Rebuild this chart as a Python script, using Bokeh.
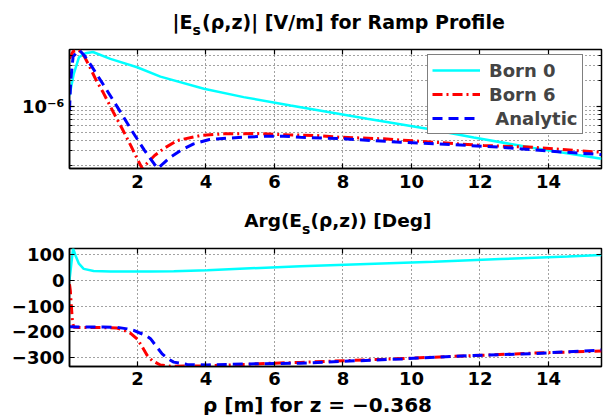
from bokeh.plotting import figure
from bokeh.models import (FixedTicker, CustomJSTickFormatter, Legend, LegendItem,
                          LinearAxis, LogAxis, Range1d)
from bokeh.layouts import column
from bokeh.embed import file_html
from bokeh.resources import INLINE
from bokeh.core.properties import value

FONT = "DejaVu Sans"

# ---------------- data ----------------
x_ticks = [2, 4, 6, 8, 10, 12, 14]
mag_major_ticks = [1e-6]
mag_minor_ticks = [2e-7, 3e-7, 4e-7, 5e-7, 6e-7, 7e-7, 8e-7, 9e-7, 2e-6, 3e-6, 4e-6]
phase_ticks = [-300, -200, -100, 0, 100]

# |Es| Born 0
rho_b0_mag = [0.015, 0.14, 0.29, 0.48, 0.7, 1.21, 1.99, 2.67, 3.94, 5.1, 6.47, 8.71, 10.46, 11.82, 13.57, 15.55]
mag_b0 = [1.35e-6, 2.43e-6, 3.80e-6, 4.24e-6, 4.38e-6, 3.64e-6, 2.90e-6, 2.25e-6, 1.62e-6, 1.29e-6,
          1.03e-6, 7.17e-7, 5.47e-7, 4.32e-7, 3.25e-7, 2.43e-7]

# |Es| Born 6
rho_b6_mag = [0.015, 0.12, 0.29, 0.45, 0.6, 0.8, 1.0, 1.3, 1.55, 1.82, 2.0, 2.14, 2.3, 2.5, 2.77, 3.16,
              3.84, 4.52, 5.5, 6.37, 7.25, 7.93, 9.19, 10.65, 12.11, 13.57, 14.84, 15.55]
mag_b6 = [3.67e-6, 4.44e-6, 4.62e-6, 3.87e-6, 2.96e-6, 2.02e-6, 1.46e-6, 8.50e-7, 5.51e-7, 3.38e-7,
          2.38e-7, 1.87e-7, 2.19e-7, 2.65e-7, 3.21e-7, 3.98e-7, 4.56e-7, 4.77e-7, 4.81e-7, 4.65e-7,
          4.56e-7, 4.35e-7, 4.17e-7, 3.80e-7, 3.48e-7, 3.32e-7, 3.03e-7, 2.90e-7]

# |Es| Analytic
rho_an_mag = [0.015, 0.05, 0.12, 0.3, 0.45, 0.65, 1.0, 1.24, 1.55, 1.85, 2.21, 2.5, 2.6, 2.75, 2.96,
              3.25, 3.64, 4.1, 4.6, 5.2, 5.8, 6.27, 6.76, 8.02, 9.68, 11.14, 12.6, 14.06, 15.55]
mag_an = [8.97e-7, 2.02e-6, 3.87e-6, 4.62e-6, 3.98e-6, 3.03e-6, 1.815e-6, 1.276e-6, 8.05e-7, 5.08e-7,
          3.03e-7, 2.08e-7, 1.87e-7, 2.135e-7, 2.535e-7, 3.03e-7, 3.64e-7, 4.09e-7, 4.24e-7, 4.38e-7,
          4.48e-7, 4.48e-7, 4.35e-7, 4.17e-7, 3.80e-7, 3.57e-7, 3.32e-7, 2.98e-7, 2.72e-7]

# Arg(Es) Born 0
rho_b0_ph = [0.015, 0.12, 0.19, 0.29, 0.43, 0.72, 1.21, 2.38, 3.06, 4.04, 5.3, 6.76, 8.71, 10.65, 12.6, 14.56, 15.55]
ph_b0 = [2, 124, 97, 65, 45, 37, 35, 35, 36, 40, 47, 55, 64, 73, 83, 93, 99]

# Arg(Es) Born 6
rho_b6_ph = [0.015, 0.04, 0.07, 0.1, 0.14, 0.5, 1.0, 1.4, 1.6, 1.8, 2.0, 2.14, 2.28, 2.43, 2.67, 2.96,
             3.84, 4.81, 5.79, 6.76, 7.73, 9.19, 10.65, 12.11, 13.57, 15.55]
ph_b6 = [-15, -40, -100, -160, -182, -183, -183, -185, -193, -205, -228, -258, -290, -311, -328, -333,
         -332, -328, -322, -318, -313, -306, -298, -290, -282, -274]

# Arg(Es) Analytic
rho_an_ph = [0.015, 0.5, 1.0, 1.41, 1.7, 1.89, 2.05, 2.23, 2.38, 2.57, 2.72, 2.9, 3.06, 3.45, 4.04,
             5.3, 6.76, 8.0, 9.68, 11.63, 13.57, 15.55]
ph_an = [-180, -181, -181, -182, -188, -194, -203, -212, -226, -259, -285, -305, -317, -326, -328,
         -324, -321, -314, -305, -292, -284, -270]

series_labels = ["Born 0", "Born 6", " Analytic"]
top_title = ["|E", "s", "(\u03c1,z)| [V/m] for Ramp Profile"]
bottom_title = ["Arg(E", "s", "(\u03c1,z)) [Deg]"]
x_label = "\u03c1 [m] for z = \u22120.368"

# ---------------- styling ----------------
W = 607
FRAME_L, FRAME_R = 69, 601
GRID_COLOR = "#444444"
CYAN, RED, BLUE = "#00ffff", "#ff0000", "#0000ff"

MINUS_FMT = CustomJSTickFormatter(code="return String(tick).replace('-', '\u2212');")
LOG_FMT = CustomJSTickFormatter(code="""
const sup = {'-':'\u207b','0':'\u2070','1':'\u00b9','2':'\u00b2','3':'\u00b3','4':'\u2074',
             '5':'\u2075','6':'\u2076','7':'\u2077','8':'\u2078','9':'\u2079'};
const e = String(Math.round(Math.log10(tick)));
return '10' + e.split('').map(c => sup[c]).join('');
""")
EMPTY_FMT = CustomJSTickFormatter(code="return '';")


def style_axis(ax, standoff):
    ax.axis_line_width = 1.5
    ax.axis_line_color = "black"
    ax.major_tick_in = 5
    ax.major_tick_out = 0
    ax.minor_tick_in = 0
    ax.minor_tick_out = 0
    ax.major_tick_line_width = 1.2
    ax.major_label_text_font = FONT
    ax.major_label_text_font_style = "bold"
    ax.major_label_text_font_size = "18px"
    ax.major_label_text_color = "black"
    ax.major_label_standoff = standoff


def mirror_axis(cls, ticker, minor=False):
    return cls(ticker=ticker, formatter=EMPTY_FMT, major_label_standoff=0,
               major_tick_in=5, major_tick_out=0, minor_tick_in=3 if minor else 0, minor_tick_out=0,
               axis_line_color=None, major_tick_line_width=1.2)


def make_fig(height, b_top, b_bottom, y_range, y_type, x_standoff):
    p = figure(width=W, height=height, x_range=Range1d(0.015, 15.55), y_range=y_range,
               y_axis_type=y_type, output_backend="svg", toolbar_location=None,
               min_border_left=FRAME_L, min_border_right=W - FRAME_R, min_border_top=b_top,
               min_border_bottom=b_bottom, background_fill_color="white",
               border_fill_color="white")
    p.outline_line_color = "black"
    p.outline_line_width = 1.5
    xt = FixedTicker(ticks=x_ticks)
    p.xaxis.ticker = xt
    style_axis(p.xaxis[0], x_standoff)
    style_axis(p.yaxis[0], 5)
    p.add_layout(mirror_axis(LinearAxis, xt), "above")
    for g in (p.xgrid[0], p.ygrid[0]):
        g.grid_line_color = GRID_COLOR
        g.grid_line_dash = "1 3"
        g.grid_line_width = 1
    return p


def text_strip(height):
    # a bare strip whose frame lines up with the plot frames; x in page pixels, y from its top
    s = figure(width=W, height=height, x_range=Range1d(FRAME_L, FRAME_R), y_range=Range1d(height, 0),
               output_backend="svg", toolbar_location=None, x_axis_location=None,
               y_axis_location=None, min_border=0, min_border_left=FRAME_L,
               min_border_right=W - FRAME_R, min_border_top=0, min_border_bottom=0,
               border_fill_color="white", background_fill_color="white")
    s.outline_line_color = None
    s.grid.visible = False
    return s


def put_text(s, x, y, text, size, align):
    s.text(x=[x], y=[y], text=[text], text_font=value(FONT), text_font_style="bold",
           text_font_size=value(size), text_color="black", text_align=align,
           text_baseline="alphabetic")


def put_title(s, pieces, x_anchor, y_base, y_sub, size_main, size_sub, sub_w):
    put_text(s, x_anchor, y_base, pieces[0], size_main, "right")
    put_text(s, x_anchor, y_sub, pieces[1], size_sub, "left")
    put_text(s, x_anchor + sub_w, y_base, pieces[2], size_main, "left")


# ---------------- top title strip ----------------
t1 = text_strip(44)
put_title(t1, top_title, 192, 21.8, 29.8, "19px", "14px", 9.5)

# ---------------- top: magnitude ----------------
p1 = make_fig(156, 5, 32, Range1d(1.866e-7, 4.69e-6), "log", 6)
yt1 = FixedTicker(ticks=mag_major_ticks, minor_ticks=mag_minor_ticks)
p1.yaxis.ticker = yt1
p1.yaxis.formatter = LOG_FMT
p1.yaxis.minor_tick_in = 3
p1.ygrid.minor_grid_line_color = GRID_COLOR
p1.ygrid.minor_grid_line_dash = "1 3"
p1.add_layout(mirror_axis(LogAxis, yt1, minor=True), "right")

r0 = p1.line(rho_b0_mag, mag_b0, line_color=CYAN, line_width=2.5)
r6 = p1.line(rho_b6_mag, mag_b6, line_color=RED, line_width=3, line_dash="10 4 2 4")
ra = p1.line(rho_an_mag, mag_an, line_color=BLUE, line_width=3, line_dash="10 6")

legend = Legend(items=[LegendItem(label=series_labels[0], renderers=[r0]),
                       LegendItem(label=series_labels[1], renderers=[r6]),
                       LegendItem(label=series_labels[2], renderers=[ra])],
                location=(358, 34), label_text_font=FONT, label_text_font_style="bold",
                label_text_font_size="18px", glyph_width=48, glyph_height=22, label_height=22,
                label_width=80, label_standoff=9, padding=4, spacing=2, margin=0,
                border_line_color="black", border_line_width=1.5, background_fill_alpha=1)
p1.add_layout(legend)

# ---------------- bottom title strip ----------------
t2 = text_strip(40)
put_title(t2, bottom_title, 301.5, 19.5, 28, "18.5px", "14px", 8.5)

# ---------------- bottom: phase ----------------
p2 = make_fig(152, 8, 26, Range1d(-334, 124), "linear", 5)
yt2 = FixedTicker(ticks=phase_ticks)
p2.yaxis.ticker = yt2
p2.yaxis.formatter = MINUS_FMT
p2.add_layout(mirror_axis(LinearAxis, yt2), "right")

p2.line(rho_b0_ph, ph_b0, line_color=CYAN, line_width=2.5)
p2.line(rho_b6_ph, ph_b6, line_color=RED, line_width=3, line_dash="10 4 2 4")
p2.line(rho_an_ph, ph_an, line_color=BLUE, line_width=3, line_dash="10 6")

# ---------------- x label strip ----------------
t3 = text_strip(23)
put_text(t3, 317, 12, x_label, "20px", "center")

layout = column(t1, p1, t2, p2, t3, spacing=0)
open("out.html", "w").write(file_html(layout, INLINE))
